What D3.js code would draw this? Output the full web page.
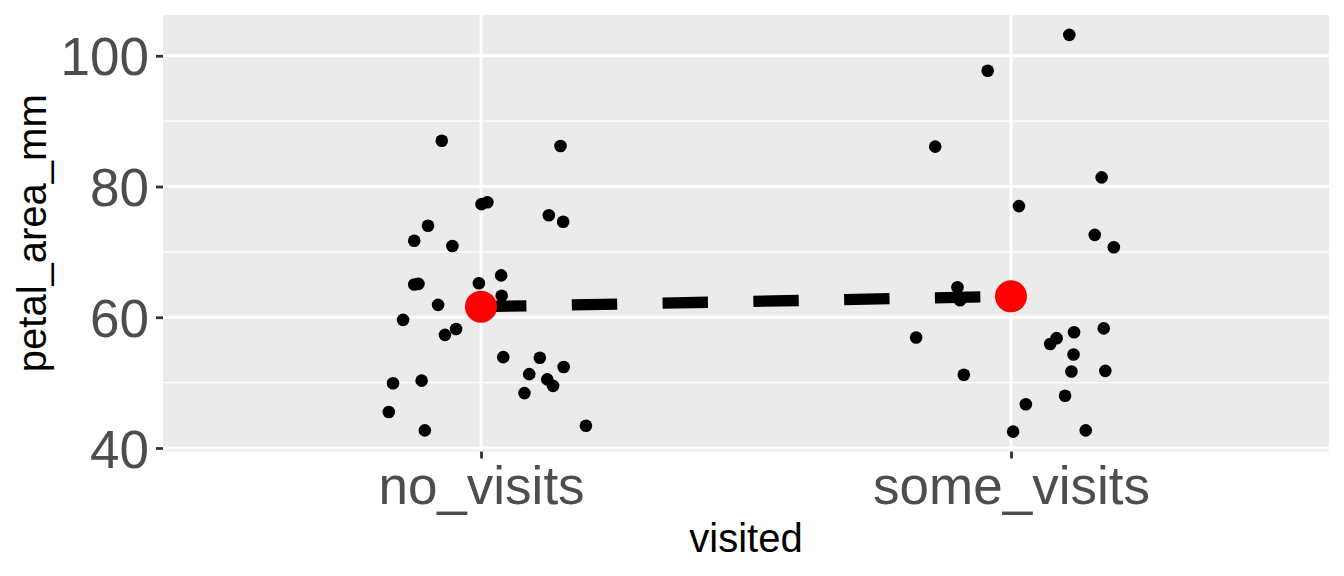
<!DOCTYPE html>
<html lang="en">
<head>
    <meta charset="UTF-8">
    <title>petal_area_mm by visited</title>
    <style>
        body { margin: 0; background: #fff; }
        text { font-family: "Liberation Sans", Arial, sans-serif; }
        .grid-major { stroke: #fff; stroke-width: 2.8px; }
        .grid-minor { stroke: #fff; stroke-width: 1.4px; }
    </style>
</head>
<body>
    <svg width="1344" height="576"></svg>

    <script src="https://d3js.org/d3.v7.min.js"></script>
    <script>
        (function() {
            'use strict';

            var WIDTH = 1344;
            var HEIGHT = 576;
            var margin = { top: 15, right: 15, bottom: 124.5, left: 163 };

            // categories on the x axis
            var categories = ["no_visits", "some_visits"];

            var noVisitsArea = [87.0, 86.2, 77.3, 77.6, 75.6, 74.6, 74.0, 71.7, 70.9, 65.0,
                                65.1, 65.2, 66.4, 63.3, 61.9, 59.6, 58.2, 57.3, 53.9, 53.8,
                                52.4, 51.3, 50.5, 49.5, 48.4, 49.9, 50.3, 45.5, 42.7, 43.4];
            var noVisitsJitter = [-0.074, 0.150, 0.001, 0.012, 0.128, 0.155, -0.100, -0.126, -0.054, -0.126,
                                  -0.118, -0.004, 0.038, 0.039, -0.081, -0.147, -0.047, -0.068, 0.042, 0.111,
                                  0.156, 0.091, 0.125, 0.136, 0.082, -0.166, -0.112, -0.174, -0.106, 0.198];

            var someVisitsArea = [103.2, 97.7, 86.1, 81.4, 77.0, 72.6, 70.7, 64.6, 62.6, 56.9,
                                  58.3, 57.7, 56.8, 55.9, 54.3, 51.7, 51.8, 51.2, 48.0, 46.7,
                                  42.5, 42.7];
            var someVisitsJitter = [0.110, -0.044, -0.143, 0.171, 0.015, 0.158, 0.194, -0.101, -0.096, -0.179,
                                    0.175, 0.119, 0.086, 0.074, 0.118, 0.114, 0.178, -0.089, 0.102, 0.028,
                                    0.004, 0.141];

            var yTicks = [40, 60, 80, 100];
            var yMinor = [50, 70, 90];

            var points = [];
            noVisitsArea.forEach(function(v, i) {
                points.push({ visited: "no_visits", area: v, jitter: noVisitsJitter[i] });
            });
            someVisitsArea.forEach(function(v, i) {
                points.push({ visited: "some_visits", area: v, jitter: someVisitsJitter[i] });
            });

            var means = categories.map(function(c) {
                return {
                    visited: c,
                    area: d3.mean(points.filter(function(p) { return p.visited == c; }), function(p) { return p.area; })
                };
            });

            var innerW = WIDTH - margin.left - margin.right;
            var innerH = HEIGHT - margin.top - margin.bottom;

            // discrete x: positions 1..n with 0.6 expansion on both sides, like ggplot
            var x = d3.scaleLinear()
                .domain([1 - 0.6, categories.length + 0.6])
                .range([0, innerW]);
            function xPos(cat, jit) {
                return x(categories.indexOf(cat) + 1 + (jit || 0));
            }

            // continuous y: data range with 5% expansion
            var ext = d3.extent(points, function(p) { return p.area; });
            var pad = (ext[1] - ext[0]) * 0.05;
            var y = d3.scaleLinear()
                .domain([ext[0] - pad, ext[1] + pad])
                .range([innerH, 0]);

            var svg = d3.select("svg");
            var g = svg.append("g")
                .attr("transform", "translate(" + margin.left + "," + margin.top + ")");

            // panel
            g.append("rect")
                .attr("width", innerW)
                .attr("height", innerH)
                .attr("fill", "#ebebeb");

            g.selectAll(".grid-minor")
                .data(yMinor)
                .enter()
                .append("line")
                .attr("class", "grid-minor")
                .attr("x1", 0).attr("x2", innerW)
                .attr("y1", function(d) { return y(d); })
                .attr("y2", function(d) { return y(d); });

            g.selectAll(".grid-major.h")
                .data(yTicks)
                .enter()
                .append("line")
                .attr("class", "grid-major h")
                .attr("x1", 0).attr("x2", innerW)
                .attr("y1", function(d) { return y(d); })
                .attr("y2", function(d) { return y(d); });

            g.selectAll(".grid-major.v")
                .data(categories)
                .enter()
                .append("line")
                .attr("class", "grid-major v")
                .attr("y1", 0).attr("y2", innerH)
                .attr("x1", function(d) { return xPos(d); })
                .attr("x2", function(d) { return xPos(d); });

            // axes
            var yAxis = g.append("g")
                .call(d3.axisLeft(y).tickValues(yTicks).tickSize(7).tickPadding(7));
            var xAxis = g.append("g")
                .attr("transform", "translate(0," + innerH + ")")
                .call(d3.axisBottom(x)
                    .tickValues(categories.map(function(c, i) { return i + 1; }))
                    .tickFormat(function(d) { return categories[d - 1]; })
                    .tickSize(7).tickPadding(8));

            [yAxis, xAxis].forEach(function(ax) {
                ax.select(".domain").remove();
                ax.selectAll(".tick line").attr("stroke", "#333").attr("stroke-width", 2.8);
                ax.selectAll(".tick text")
                    .attr("fill", "#4d4d4d")
                    .style("font-size", "53px")
                    .style("font-family", "'Liberation Sans', Arial, sans-serif");
            });
            yAxis.selectAll(".tick text").attr("dy", "0.36em");
            xAxis.selectAll(".tick text").attr("dy", "0.71em");

            // jittered points
            g.selectAll(".pt")
                .data(points)
                .enter()
                .append("circle")
                .attr("class", "pt")
                .attr("cx", function(d) { return xPos(d.visited, d.jitter); })
                .attr("cy", function(d) { return y(d.area); })
                .attr("r", 6.3)
                .attr("fill", "#000");

            // dashed line between the group means
            var line = d3.line()
                .x(function(d) { return xPos(d.visited); })
                .y(function(d) { return y(d.area); });

            g.append("path")
                .datum(means)
                .attr("d", line)
                .attr("fill", "none")
                .attr("stroke", "#000")
                .attr("stroke-width", 11.3)
                .attr("stroke-dasharray", "45.4,45.4")
                .attr("stroke-linecap", "butt");

            g.selectAll(".mean")
                .data(means)
                .enter()
                .append("circle")
                .attr("class", "mean")
                .attr("cx", function(d) { return xPos(d.visited); })
                .attr("cy", function(d) { return y(d.area); })
                .attr("r", 16)
                .attr("fill", "#ff0000");

            // axis titles
            svg.append("text")
                .attr("x", margin.left + innerW / 2)
                .attr("y", 552)
                .attr("text-anchor", "middle")
                .style("font-size", "40px")
                .attr("fill", "#000")
                .text("visited");

            svg.append("text")
                .attr("transform", "translate(46," + (margin.top + innerH / 2) + ") rotate(-90)")
                .attr("text-anchor", "middle")
                .style("font-size", "40px")
                .attr("fill", "#000")
                .text("petal_area_mm");
        })();
    </script>
</body>
</html>
